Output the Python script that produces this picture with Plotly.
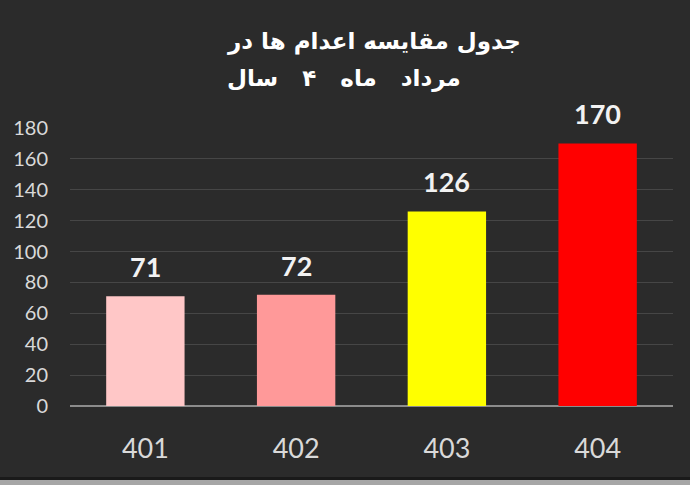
import plotly.graph_objects as go

categories = ["401", "402", "403", "404"]
values = [71, 72, 126, 170]
bar_colors = ["#ffc7c7", "#ff9999", "#ffff00", "#ff0000"]
y_ticks = [0, 20, 40, 60, 80, 100, 120, 140, 160, 180]
title_lines = ["جدول مقایسه اعدام ها در", "مرداد\u00a0\u00a0 ماه\u00a0\u00a0 ۴\u00a0\u00a0 سال"]

W, H = 690, 485
ML, MR, MT, MB = 70, 17, 128, 79
plot_h = H - MT - MB
plot_w = W - ML - MR

fig = go.Figure()
fig.add_trace(go.Bar(
    x=categories, y=values,
    marker=dict(color=bar_colors, line=dict(width=0)),
    hoverinfo="x+y",
))

for i, v in enumerate(values):
    fig.add_annotation(
        x=i, y=v, xref="x", yref="y", text=f"<b>{v}</b>", showarrow=False,
        yanchor="bottom", yshift=11,
        font=dict(family="Lato, 'Open Sans', sans-serif", size=27, color="#f2f2f2"),
    )

title_pos = [(374, 42), (344, 78)]
for line, (xc, yc) in zip(title_lines, title_pos):
    fig.add_annotation(
        x=(xc - ML) / plot_w, xref="paper", yref="paper",
        xanchor="center", yanchor="middle",
        y=1 + (MT - yc) / plot_h,
        text="<b>" + line + "</b>", showarrow=False,
        font=dict(family="DejaVu Sans", size=23, color="#ffffff"),
    )

fig.update_layout(
    width=W, height=H,
    paper_bgcolor="#2b2b2b", plot_bgcolor="#2b2b2b",
    margin=dict(l=ML, r=MR, t=MT, b=MB),
    bargap=0.48,
    showlegend=False,
    xaxis=dict(
        type="category", showgrid=False, showline=False, zeroline=False,
        tickfont=dict(family="Lato, 'Open Sans', sans-serif", size=27, color="#d9d9d9"),
        ticklabelstandoff=24, ticks="",
    ),
    yaxis=dict(
        range=[0, 180], tickvals=y_ticks, ticktext=[str(t) for t in y_ticks],
        showgrid=True, gridcolor="#464646", gridwidth=1,
        zeroline=True, zerolinecolor="#8c8c8c", zerolinewidth=1.5,
        showline=False, ticks="",
        tickfont=dict(family="Lato, 'Open Sans', sans-serif", size=20, color="#d9d9d9"),
        ticklabelstandoff=21,
    ),
    shapes=[
        dict(type="rect", xref="paper", yref="paper", x0=-0.2, x1=1.2,
             y0=(-MB - 10) / plot_h, y1=(-MB + 5) / plot_h,
             fillcolor="#a6a6a6", line=dict(width=0), layer="below"),
        dict(type="rect", xref="paper", yref="paper", x0=-0.2, x1=1.2,
             y0=(-MB + 5) / plot_h, y1=(-MB + 8) / plot_h,
             fillcolor="#1a1a1a", line=dict(width=0), layer="below"),
    ],
)

fig.write_html("out.html", post_script="document.body.style.margin='0px';",
               config={"displayModeBar": False})
